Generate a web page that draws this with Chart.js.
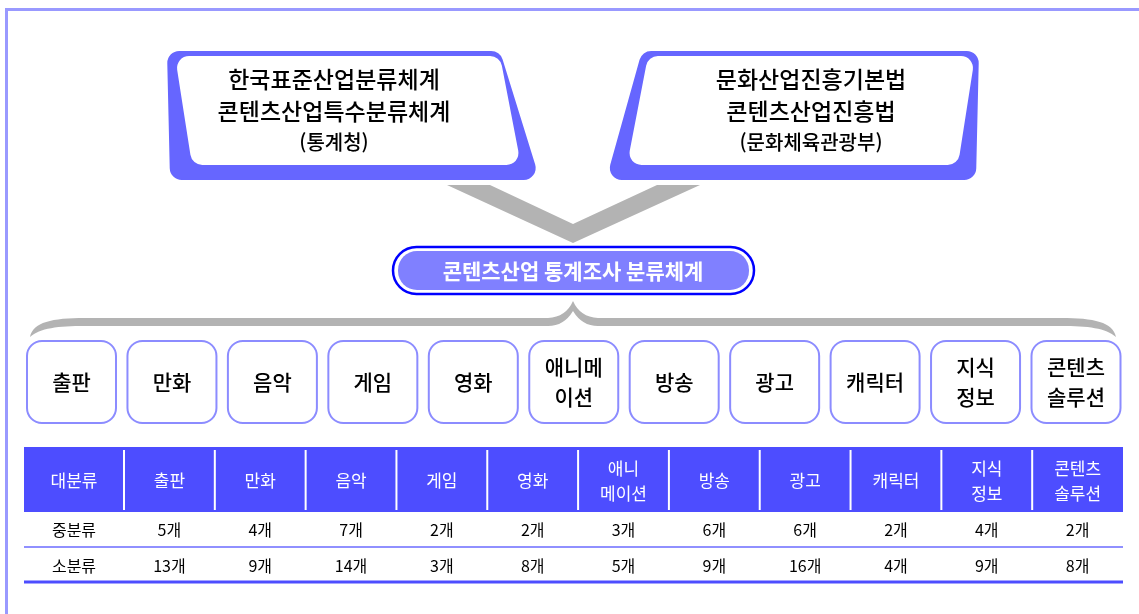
<!DOCTYPE html>
<html lang="ko">
<head>
<meta charset="utf-8">
<title>콘텐츠산업 통계조사 분류체계</title>
<script src="https://cdn.jsdelivr.net/npm/chart.js@4.4.1/dist/chart.umd.min.js"></script>
<style>
  html, body { margin: 0; padding: 0; background: #fff; }
  #wrap { width: 1139px; height: 614px; }
</style>
</head>
<body>
<div id="wrap"><canvas id="diagramme" width="1139" height="614"></canvas></div>
<script>
// Source classification systems (top boxes)
const sourceLeft = ['한국표준산업분류체계', '콘텐츠산업특수분류체계', '(통계청)'];
const sourceRight = ['문화산업진흥기본법', '콘텐츠산업진흥법', '(문화체육관광부)'];
const hubTitle = '콘텐츠산업 통계조사 분류체계';

// Major categories, as written in the boxes and in the table header
const boxLabels = ['출판', '만화', '음악', '게임', '영화', '애니메\n이션', '방송', '광고', '캐릭터', '지식\n정보', '콘텐츠\n솔루션'];
const headLabels = ['출판', '만화', '음악', '게임', '영화', '애니\n메이션', '방송', '광고', '캐릭터', '지식\n정보', '콘텐츠\n솔루션'];
const cornerLabel = '대분류';
const rowNames = ['중분류', '소분류'];

// Number of sub-classes per category
const midCounts = [5, 4, 7, 2, 2, 3, 6, 6, 2, 4, 2];
const subCounts = [13, 9, 14, 3, 8, 5, 9, 16, 4, 9, 8];

// Layout (in scale units, the scales span the whole canvas)
const W = 1139, H = 614;
const FONT = '"Noto Sans CJK KR", "Noto Sans", sans-serif';
const TABLE = { left: 24, right: 1123, firstW: 100, top: 447, headBottom: 512, rowLine: 547, bottom: 582 };
const ROW_Y = [530, 566];
const colW = (TABLE.right - TABLE.left - TABLE.firstW) / boxLabels.length;
const colCenter = k => k === 0 ? TABLE.left + TABLE.firstW / 2 : TABLE.left + TABLE.firstW + (k - 0.5) * colW;

// rounded polygon through points already in pixels
function roundPoly(ctx, pts, r) {
  const n = pts.length;
  ctx.beginPath();
  ctx.moveTo((pts[n - 1][0] + pts[0][0]) / 2, (pts[n - 1][1] + pts[0][1]) / 2);
  for (let i = 0; i < n; i++) {
    const p = pts[i], q = pts[(i + 1) % n];
    ctx.arcTo(p[0], p[1], q[0], q[1], r);
  }
  ctx.closePath();
}

function multiline(ctx, text, x, y, gap) {
  const lines = text.split('\n');
  lines.forEach((l, i) => ctx.fillText(l, x, y + (i - (lines.length - 1) / 2) * gap));
}

const diagramPlugin = {
  id: 'diagram',
  beforeDatasetsDraw(chart) {
    const ctx = chart.ctx;
    const sx = chart.scales.x, sy = chart.scales.y;
    const X = v => sx.getPixelForValue(v), Y = v => sy.getPixelForValue(v);
    const P = pts => pts.map(p => [X(p[0]), Y(p[1])]);
    ctx.save();

    // outer frame (top and left only)
    ctx.fillStyle = '#9999ff';
    ctx.fillRect(X(5), Y(8), X(W) - X(5), Y(11) - Y(8));
    ctx.fillRect(X(5), Y(8), X(8) - X(5), Y(H) - Y(8));

    // grey funnel between the two sources
    ctx.fillStyle = '#b3b3b3';
    ctx.beginPath();
    P([[447, 185], [490, 185], [573, 224], [657, 185], [700, 185], [573, 243]]).forEach((p, i) => i ? ctx.lineTo(p[0], p[1]) : ctx.moveTo(p[0], p[1]));
    ctx.closePath();
    ctx.fill();

    // source boxes : purple backing + white face
    ctx.fillStyle = '#6666ff';
    roundPoly(ctx, P([[167, 51], [500, 51], [540, 180], [170, 180]]), 12); ctx.fill();
    roundPoly(ctx, P([[642, 51], [979, 51], [976, 180], [606, 180]]), 12); ctx.fill();
    ctx.fillStyle = '#ffffff';
    roundPoly(ctx, P([[175, 56], [500, 56], [521, 165], [192, 165]]), 12); ctx.fill();
    roundPoly(ctx, P([[648, 56], [975, 56], [958, 165], [627, 165]]), 12); ctx.fill();

    ctx.fillStyle = '#000000';
    ctx.textAlign = 'center';
    ctx.textBaseline = 'middle';
    [[sourceLeft, 334], [sourceRight, 811]].forEach(([lines, cx]) => {
      ctx.font = '500 23px ' + FONT;
      ctx.fillText(lines[0], X(cx), Y(79));
      ctx.fillText(lines[1], X(cx), Y(111));
      ctx.font = '500 20px ' + FONT;
      ctx.fillText(lines[2], X(cx), Y(142));
    });

    // central pill
    ctx.strokeStyle = '#0000ff';
    ctx.lineWidth = 2.5;
    ctx.beginPath();
    ctx.roundRect(X(393), Y(247), X(754) - X(393), Y(294) - Y(247), 24);
    ctx.stroke();
    ctx.fillStyle = '#8080ff';
    ctx.beginPath();
    ctx.roundRect(X(398), Y(251), X(749) - X(398), Y(290) - Y(251), 19);
    ctx.fill();
    ctx.fillStyle = '#ffffff';
    ctx.font = 'bold 21px ' + FONT;
    ctx.fillText(hubTitle, X(573), Y(271));

    // curly brace
    ctx.fillStyle = '#b3b3b3';
    ctx.beginPath();
    ctx.moveTo(X(30), Y(337));
    ctx.bezierCurveTo(X(33), Y(322), X(52), Y(318), X(85), Y(318));
    ctx.lineTo(X(548), Y(318));
    ctx.quadraticCurveTo(X(566), Y(317), X(573), Y(301));
    ctx.quadraticCurveTo(X(580), Y(317), X(598), Y(318));
    ctx.lineTo(X(1061), Y(318));
    ctx.bezierCurveTo(X(1094), Y(318), X(1113), Y(322), X(1116), Y(337));
    ctx.bezierCurveTo(X(1106), Y(328), X(1088), Y(326), X(1061), Y(326));
    ctx.lineTo(X(598), Y(326));
    ctx.quadraticCurveTo(X(582), Y(326), X(573), Y(311));
    ctx.quadraticCurveTo(X(564), Y(326), X(548), Y(326));
    ctx.lineTo(X(85), Y(326));
    ctx.bezierCurveTo(X(58), Y(326), X(40), Y(328), X(30), Y(337));
    ctx.closePath();
    ctx.fill();

    // category boxes
    const pitch = 100.45, bw = 89;
    boxLabels.forEach((lab, i) => {
      const x0 = 27 + i * pitch;
      ctx.fillStyle = '#ffffff';
      ctx.strokeStyle = '#8c8cff';
      ctx.lineWidth = 2;
      ctx.beginPath();
      ctx.roundRect(X(x0), Y(341), X(x0 + bw) - X(x0), Y(423) - Y(341), 15);
      ctx.fill();
      ctx.stroke();
      ctx.fillStyle = '#000000';
      ctx.font = '500 21px ' + FONT;
      multiline(ctx, lab, X(x0 + bw / 2), Y(382), 30);
    });

    // table header band
    ctx.fillStyle = '#4d4dff';
    ctx.fillRect(X(TABLE.left), Y(TABLE.top), X(TABLE.right) - X(TABLE.left), Y(TABLE.headBottom) - Y(TABLE.top));
    ctx.strokeStyle = '#ffffff';
    ctx.lineWidth = 2;
    for (let k = 0; k < headLabels.length; k++) {
      const xd = X(TABLE.left + TABLE.firstW + k * colW);
      ctx.beginPath();
      ctx.moveTo(xd, Y(450));
      ctx.lineTo(xd, Y(510));
      ctx.stroke();
    }
    ctx.fillStyle = '#ffffff';
    ctx.font = '17px ' + FONT;
    [cornerLabel].concat(headLabels).forEach((lab, k) => multiline(ctx, lab, X(colCenter(k)), Y(481), 25));

    // row rules
    ctx.strokeStyle = '#6b6bff';
    ctx.lineWidth = 1.5;
    ctx.beginPath();
    ctx.moveTo(X(TABLE.left), Y(TABLE.rowLine));
    ctx.lineTo(X(TABLE.right), Y(TABLE.rowLine));
    ctx.stroke();
    ctx.strokeStyle = '#4d4dff';
    ctx.lineWidth = 3;
    ctx.beginPath();
    ctx.moveTo(X(TABLE.left), Y(TABLE.bottom));
    ctx.lineTo(X(TABLE.right), Y(TABLE.bottom));
    ctx.stroke();

    // row names
    ctx.fillStyle = '#000000';
    ctx.font = '16px ' + FONT;
    rowNames.forEach((n, r) => ctx.fillText(n, X(colCenter(0)), Y(ROW_Y[r])));
    ctx.restore();
  },
  afterDatasetsDraw(chart) {
    // counts are written where the library placed each point
    const ctx = chart.ctx;
    ctx.save();
    ctx.fillStyle = '#000000';
    ctx.font = '16px ' + FONT;
    ctx.textAlign = 'center';
    ctx.textBaseline = 'middle';
    chart.data.datasets.forEach((ds, d) => {
      chart.getDatasetMeta(d).data.forEach((pt, i) => {
        ctx.fillText(ds.data[i].v + '개', pt.x, pt.y);
      });
    });
    ctx.restore();
  }
};

new Chart(document.getElementById('diagramme'), {
  type: 'scatter',
  data: {
    datasets: [
      { label: rowNames[0], data: midCounts.map((v, i) => ({ x: colCenter(i + 1), y: ROW_Y[0], v })), pointRadius: 0 },
      { label: rowNames[1], data: subCounts.map((v, i) => ({ x: colCenter(i + 1), y: ROW_Y[1], v })), pointRadius: 0 }
    ]
  },
  options: {
    responsive: false,
    devicePixelRatio: 1,
    animation: false,
    layout: { padding: 0 },
    plugins: { legend: { display: false }, tooltip: { enabled: false } },
    scales: {
      x: { type: 'linear', min: 0, max: W, display: false },
      y: { type: 'linear', min: 0, max: H, reverse: true, display: false }
    }
  },
  plugins: [diagramPlugin]
});
</script>
</body>
</html>
